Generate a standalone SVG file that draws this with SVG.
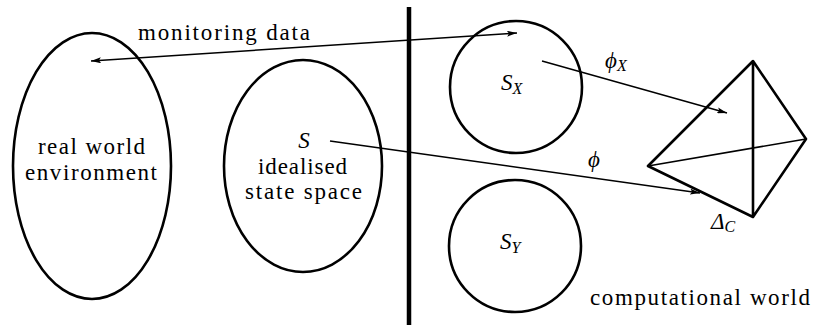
<svg xmlns="http://www.w3.org/2000/svg" width="814" height="327" viewBox="0 0 814 327">
<defs>
<marker id="ah" viewBox="0 0 10 6" refX="10" refY="3" markerWidth="10" markerHeight="6" markerUnits="userSpaceOnUse" orient="auto-start-reverse">
<path d="M0,0 L10,3 L0,6 L2,3 Z" fill="#000"/>
</marker>
</defs>
<rect width="814" height="327" fill="#fff"/>
<g id="real-world">
<ellipse cx="92" cy="166" rx="79" ry="133" fill="none" stroke="#000" stroke-width="2.6"/>
<text font-family="Liberation Serif" font-size="23" x="38" y="154" textLength="107" lengthAdjust="spacing">real world</text>
<text font-family="Liberation Serif" font-size="23" x="25" y="180" textLength="132" lengthAdjust="spacing">environment</text>
</g>
<g id="state-space">
<ellipse cx="303" cy="166" rx="79" ry="106" fill="none" stroke="#000" stroke-width="2.6"/>
<text font-family="Liberation Serif" font-size="23" font-style="italic" x="304" y="148" text-anchor="middle">S</text>
<text font-family="Liberation Serif" font-size="23" x="258" y="174" textLength="89" lengthAdjust="spacing">idealised</text>
<text font-family="Liberation Serif" font-size="23" x="245" y="199" textLength="117" lengthAdjust="spacing">state space</text>
</g>
<g id="divider">
<line x1="409" y1="7" x2="409" y2="325" stroke="#000" stroke-width="4.5"/>
</g>
<g id="SX">
<circle cx="516" cy="87" r="66" fill="none" stroke="#000" stroke-width="2.6"/>
<text font-family="Liberation Serif" font-size="23" font-style="italic" x="501" y="90">S<tspan font-size="16" dy="4">X</tspan></text>
</g>
<g id="SY">
<circle cx="515" cy="246" r="66" fill="none" stroke="#000" stroke-width="2.6"/>
<text font-family="Liberation Serif" font-size="23" font-style="italic" x="500" y="249">S<tspan font-size="16" dy="4">Y</tspan></text>
</g>
<g id="simplex">
<path d="M753,61 L648,166 L753,217 L806,139 Z M753,61 L753,217" fill="none" stroke="#000" stroke-width="2.6" stroke-linejoin="round"/>
<line x1="648" y1="166" x2="806" y2="139" stroke="#000" stroke-width="1.6"/>
<text font-family="Liberation Serif" font-size="23" font-style="italic" x="711" y="229">Δ<tspan font-size="16" dy="3">C</tspan></text>
</g>
<g id="connectors" fill="none" stroke="#000" stroke-width="1.5">
<line x1="517" y1="33" x2="91" y2="61" marker-start="url(#ah)" marker-end="url(#ah)"/>
<line x1="542" y1="61" x2="727" y2="113" marker-end="url(#ah)"/>
<line x1="330" y1="141" x2="700" y2="193" marker-end="url(#ah)"/>
</g>
<g id="labels">
<text font-family="Liberation Serif" font-size="23" x="138" y="40" textLength="172" lengthAdjust="spacing">monitoring data</text>
<text font-family="Liberation Serif" font-size="23" font-style="italic" x="605" y="68">ϕ<tspan font-size="16" dy="3">X</tspan></text>
<text font-family="Liberation Serif" font-size="23" font-style="italic" x="588" y="167">ϕ</text>
<text font-family="Liberation Serif" font-size="23" x="590" y="305" textLength="220" lengthAdjust="spacing">computational world</text>
</g>
</svg>
